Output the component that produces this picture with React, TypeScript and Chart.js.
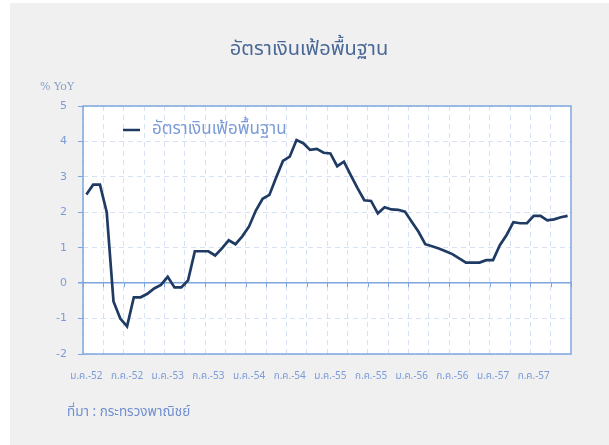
import React, { useEffect, useRef } from 'react';
import { Chart, registerables } from 'chart.js';

Chart.register(...registerables);

const monthNames = ['ม.ค.', 'ก.พ.', 'มี.ค.', 'เม.ย.', 'พ.ค.', 'มิ.ย.', 'ก.ค.', 'ส.ค.', 'ก.ย.', 'ต.ค.', 'พ.ย.', 'ธ.ค.'];
const yearSuffixes = ['52', '53', '54', '55', '56', '57'];
const categories: string[] = yearSuffixes.flatMap((y) => monthNames.map((m) => `${m}-${y}`));

const coreInflation = [
  2.5, 2.78, 2.78, 2.0, -0.52, -1.0, -1.22, -0.4, -0.4, -0.3, -0.15, -0.05,
  0.18, -0.12, -0.12, 0.08, 0.9, 0.9, 0.9, 0.78, 0.98, 1.21, 1.1, 1.32,
  1.6, 2.05, 2.38, 2.49, 2.98, 3.45, 3.57, 4.04, 3.95, 3.76, 3.79, 3.68,
  3.66, 3.3, 3.43, 3.05, 2.68, 2.34, 2.32, 1.97, 2.14, 2.08, 2.07, 2.02,
  1.73, 1.45, 1.1, 1.04, 0.98, 0.9, 0.82, 0.7, 0.58, 0.58, 0.58, 0.65,
  0.65, 1.07, 1.36, 1.72, 1.69, 1.69, 1.9, 1.9, 1.77, 1.8, 1.86, 1.9,
];

const seriesName = 'อัตราเงินเฟ้อพื้นฐาน';
const chartTitle = 'อัตราเงินเฟ้อพื้นฐาน';
const yAxisUnit = '% YoY';
const sourceNote = 'ที่มา : กระทรวงพาณิชย์';
const yMin = -2;
const yMax = 5;

const THAI_FONT = "Tahoma, 'Noto Sans Thai', 'Noto Sans', 'DejaVu Sans', sans-serif";
const LINE_COLOR = '#1f3b63';
const LABEL_COLOR = '#7b9bd8';
const GRID_COLOR = '#d6e2f3';
const FRAME_COLOR = '#7ea6de';
const TITLE_COLOR = '#4a6896';

const decorPlugin = {
  id: 'decor',
  beforeDraw(chart: any) {
    const { ctx, width, height, chartArea } = chart;
    ctx.save();
    ctx.fillStyle = '#ffffff';
    ctx.fillRect(0, 0, width, height);
    ctx.fillStyle = '#f0f0f0';
    ctx.fillRect(10, 3, width - 10, height - 3);
    ctx.fillStyle = '#ffffff';
    ctx.fillRect(chartArea.left, chartArea.top, chartArea.right - chartArea.left, chartArea.bottom - chartArea.top);
    ctx.restore();
  },
  beforeDatasetsDraw(chart: any) {
    const { ctx, chartArea, scales } = chart;
    const y0 = scales.y.getPixelForValue(0);
    ctx.save();
    ctx.strokeStyle = FRAME_COLOR;
    ctx.lineWidth = 1;
    const n = 24;
    const step = (chartArea.right - chartArea.left) / n;
    ctx.beginPath();
    for (let i = 0; i <= n; i++) {
      const x = Math.round(chartArea.left + i * step) + 0.5;
      ctx.moveTo(x, y0 - 1);
      ctx.lineTo(x, y0 + 4);
    }
    ctx.stroke();
    ctx.lineWidth = 1.5;
    ctx.strokeRect(chartArea.left, chartArea.top, chartArea.right - chartArea.left, chartArea.bottom - chartArea.top);
    ctx.restore();
  },
  afterDraw(chart: any) {
    const { ctx, chartArea } = chart;
    ctx.save();
    ctx.textBaseline = 'middle';
    ctx.textAlign = 'center';
    ctx.fillStyle = TITLE_COLOR;
    ctx.font = `20px ${THAI_FONT}`;
    ctx.fillText(chartTitle, 309, 51);

    ctx.textAlign = 'left';
    ctx.fillStyle = '#8aa0c8';
    ctx.font = `11px 'DejaVu Serif', serif`;
    ctx.fillText(yAxisUnit, 40, 87);

    ctx.strokeStyle = LINE_COLOR;
    ctx.lineWidth = 2.5;
    ctx.beginPath();
    ctx.moveTo(chartArea.left + 40, 130);
    ctx.lineTo(chartArea.left + 57, 130);
    ctx.stroke();
    ctx.fillStyle = LABEL_COLOR;
    ctx.font = `17px ${THAI_FONT}`;
    ctx.fillText(seriesName, chartArea.left + 69, 131);

    ctx.fillStyle = '#6f8fd0';
    ctx.font = `13.5px ${THAI_FONT}`;
    ctx.fillText(sourceNote, 67, 413);
    ctx.restore();
  },
};

export default function App() {
  const canvasRef = useRef<HTMLCanvasElement | null>(null);

  useEffect(() => {
    document.body.style.margin = '0';
    const canvas = canvasRef.current;
    if (!canvas) return;
    const chart = new Chart(canvas, {
      type: 'line',
      data: {
        labels: categories,
        datasets: [
          {
            label: seriesName,
            data: coreInflation,
            borderColor: LINE_COLOR,
            backgroundColor: LINE_COLOR,
            borderWidth: 2.7,
            pointRadius: 0,
            tension: 0,
            fill: false,
          },
        ],
      },
      options: {
        responsive: false,
        animation: false,
        devicePixelRatio: 1,
        layout: { padding: { left: 0, top: 106, right: 38, bottom: 0 } },
        plugins: {
          legend: { display: false },
          title: { display: false },
          tooltip: { enabled: false },
        },
        scales: {
          x: {
            type: 'category',
            offset: true,
            afterFit: (scale: any) => {
              scale.height = 91;
            },
            grid: {
              offset: true,
              drawTicks: false,
              lineWidth: 1,
              color: (ctx: any) => (ctx.index % 3 === 0 ? GRID_COLOR : 'rgba(0,0,0,0)'),
            },
            border: { display: false, dash: [5, 4] },
            ticks: {
              autoSkip: false,
              maxRotation: 0,
              minRotation: 0,
              padding: 17,
              color: LABEL_COLOR,
              font: { size: 10, family: THAI_FONT },
              callback: (_v: any, index: number) => (index % 6 === 0 ? categories[index] : ''),
            },
          },
          y: {
            min: yMin,
            max: yMax,
            afterFit: (scale: any) => {
              scale.width = 83;
            },
            grid: {
              drawTicks: true,
              tickLength: 5,
              tickColor: FRAME_COLOR,
              lineWidth: (ctx: any) => (ctx.tick && ctx.tick.value === 0 ? 1.5 : 1),
              color: (ctx: any) => (ctx.tick && ctx.tick.value === 0 ? FRAME_COLOR : GRID_COLOR),
            },
            border: {
              display: false,
              dash: (ctx: any) => (ctx.tick && ctx.tick.value === 0 ? [] : [5, 4]),
            },
            ticks: {
              stepSize: 1,
              padding: 11,
              color: LABEL_COLOR,
              font: { size: 11, family: "'DejaVu Sans', sans-serif" },
            },
          },
        },
      },
      plugins: [decorPlugin],
    });
    return () => chart.destroy();
  }, []);

  return (
    <div style={{ width: 609, height: 445, position: 'relative' }}>
      <canvas ref={canvasRef} width={609} height={445} style={{ display: 'block' }} />
    </div>
  );
}
